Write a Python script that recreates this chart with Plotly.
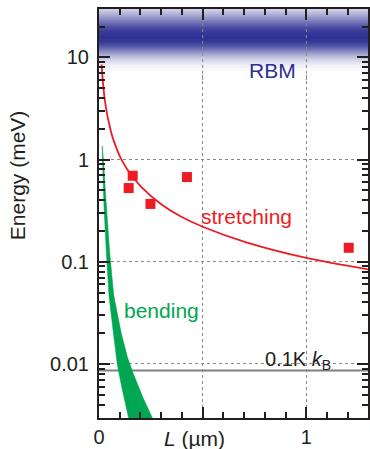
import numpy as np
import plotly.graph_objects as go

# ---------------- data ----------------
# stretching-mode curve (L in µm, E in meV)
stretch_L = [0.0125, 0.015, 0.02, 0.025, 0.03, 0.04, 0.05, 0.06, 0.08, 0.106,
             0.14, 0.2, 0.3, 0.39, 0.5, 0.71, 1.0, 1.3]
stretch_E = [8.5, 7.2, 5.4, 4.3, 3.6, 2.7, 2.2, 1.8, 1.36, 1.02,
             0.78, 0.55, 0.365, 0.28, 0.22, 0.155, 0.109, 0.084]

# measured points (red squares)
meas_L = [0.143, 0.1625, 0.248, 0.424, 1.204]
meas_E = [0.526, 0.694, 0.368, 0.674, 0.137]

# bending-mode band: upper (right) edge and lower (left) edge
bend_hi_L = [0.0154, 0.0217, 0.0289, 0.0362, 0.0506, 0.0709, 0.1070, 0.1384,
             0.1625, 0.2107, 0.2541, 0.3071]
bend_hi_E = [1.355, 0.989, 0.563, 0.343, 0.130, 0.0472, 0.02006, 0.01142,
             0.00833, 0.00474, 0.00302, 0.0018]
bend_lo_L = [0.0154, 0.0169, 0.0241, 0.0347, 0.0482, 0.0694, 0.0887, 0.1095,
             0.1418, 0.1770]
bend_lo_E = [1.355, 0.989, 0.343, 0.130, 0.0462, 0.02006, 0.00975, 0.00594,
             0.00302, 0.0018]

# thermal energy line 0.1 K * kB (meV)
thermal_L = [0.0, 1.3]
thermal_E = [0.00862, 0.00862]

# RBM band centre (meV)
rbm_center = 15.7

# ticks
x_tickvals = [0, 0.5, 1]
x_ticktext = ["0", "", "1"]
y_tickvals = [0.01, 0.1, 1, 10]
y_ticktext = ["0.01", "0.1", "1", "10"]

# ---------------- styling ----------------
INK = "#231f20"
RED = "#ed1c24"
GREEN = "#00a651"
NAVY = (46, 49, 146)
NAVY_HEX = "#2e3192"
GRID = "#8a8a8a"
FONT = "Liberation Sans, Arial, sans-serif"
X_SPAN = [0, 1.3]

fig = go.Figure()

# RBM gradient band drawn as nested rectangles (widest/lightest first)
sig_up, sig_dn = 0.22, 0.17
c_log = np.log10(rbm_center)
for t in np.linspace(0.03, 1.0, 45):
    w = np.sqrt(-np.log(t)) if t < 1 else 0.0
    lo = 10 ** (c_log - sig_dn * w - 0.012)
    hi = 10 ** (c_log + sig_up * w + 0.012)
    col = tuple(int(round(255 + (n - 255) * t)) for n in NAVY)
    fig.add_trace(go.Scatter(
        x=[X_SPAN[0], X_SPAN[1], X_SPAN[1], X_SPAN[0], X_SPAN[0]],
        y=[lo, lo, hi, hi, lo], mode="lines", fill="toself",
        fillcolor="rgb(%d,%d,%d)" % col, line=dict(width=0),
        hoverinfo="skip"))

# vertical dotted grid lines re-drawn over the band
for gx in x_tickvals[1:]:
    fig.add_trace(go.Scatter(x=[gx, gx], y=[6, 40], mode="lines",
                             line=dict(color=GRID, width=1, dash="dot"),
                             hoverinfo="skip"))

# thermal line
fig.add_trace(go.Scatter(x=thermal_L, y=thermal_E, mode="lines",
                         line=dict(color="#808080", width=2), hoverinfo="skip"))

# bending band
fig.add_trace(go.Scatter(
    x=bend_hi_L + bend_lo_L[::-1], y=bend_hi_E + bend_lo_E[::-1],
    mode="lines", fill="toself", fillcolor=GREEN,
    line=dict(color=GREEN, width=0.5), hoverinfo="skip"))

# stretching curve
fig.add_trace(go.Scatter(x=stretch_L, y=stretch_E, mode="lines",
                         line=dict(color=RED, width=1.8, shape="spline", smoothing=0.8),
                         hoverinfo="skip"))

# measured points
fig.add_trace(go.Scatter(x=meas_L, y=meas_E, mode="markers",
                         marker=dict(symbol="square", size=10, color=RED,
                                     line=dict(width=0)),
                         hoverinfo="skip"))

minor_y = [m * 10.0 ** d for d in range(-3, 2) for m in range(2, 10)]

axis_common = dict(
    ticks="inside", ticklen=11, tickwidth=2, tickcolor=INK,
    showline=True, linewidth=2, linecolor=INK, mirror="allticks",
    showgrid=True, gridcolor=GRID, griddash="dot", gridwidth=1,
    zeroline=False, automargin=False,
    tickfont=dict(family=FONT, size=20, color=INK),
)

fig.update_layout(
    width=370, height=449,
    margin=dict(l=99, r=2, t=9, b=31, autoexpand=False),
    paper_bgcolor="white", plot_bgcolor="white",
    showlegend=False,
    xaxis=dict(range=[0, 1.297], tickmode="array", tickvals=x_tickvals,
               ticktext=x_ticktext, ticklabelstandoff=0,
               minor=dict(dtick=0.1, tick0=0, ticks="inside", ticklen=6,
                          tickwidth=1.5, tickcolor=INK, showgrid=False),
               **axis_common),
    yaxis=dict(type="log", range=[-2.529, 1.473], tickmode="array",
               tickvals=y_tickvals, ticktext=y_ticktext, ticklabelstandoff=4,
               minor=dict(tickvals=minor_y, ticks="inside", ticklen=6,
                          tickwidth=1.5, tickcolor=INK, showgrid=False),
               **axis_common),
    annotations=[
        dict(text="RBM", x=0.835, y=0.873, xref="x", yref="y", showarrow=False,
             font=dict(family=FONT, size=21, color=NAVY_HEX)),
        dict(text="stretching", x=0.711, y=-0.559, xref="x", yref="y",
             showarrow=False, font=dict(family=FONT, size=21, color=RED)),
        dict(text="bending", x=0.302, y=-1.473, xref="x", yref="y",
             showarrow=False, font=dict(family=FONT, size=21, color=GREEN)),
        dict(text="0.1K <i>k</i><sub>B</sub>", x=0.79, y=-1.97, xref="x",
             yref="y", xanchor="left", yanchor="middle", showarrow=False,
             font=dict(family=FONT, size=20, color=INK)),
        dict(text="Energy (meV)", x=-0.302, y=0.593, xref="paper", yref="paper",
             xanchor="center", yanchor="middle",
             textangle=-90, showarrow=False,
             font=dict(family=FONT, size=21, color=INK)),
        dict(text="<i>L</i> (µm)", x=0.461, y=-0.0506, xref="x", yref="paper",
             xanchor="center", yanchor="middle", showarrow=False,
             font=dict(family=FONT, size=21, color=INK)),
    ],
)

fig.write_html("out.html",
               config={"displayModeBar": False},
               post_script="document.body.style.margin='0';"
                           "document.body.style.overflow='hidden';")
